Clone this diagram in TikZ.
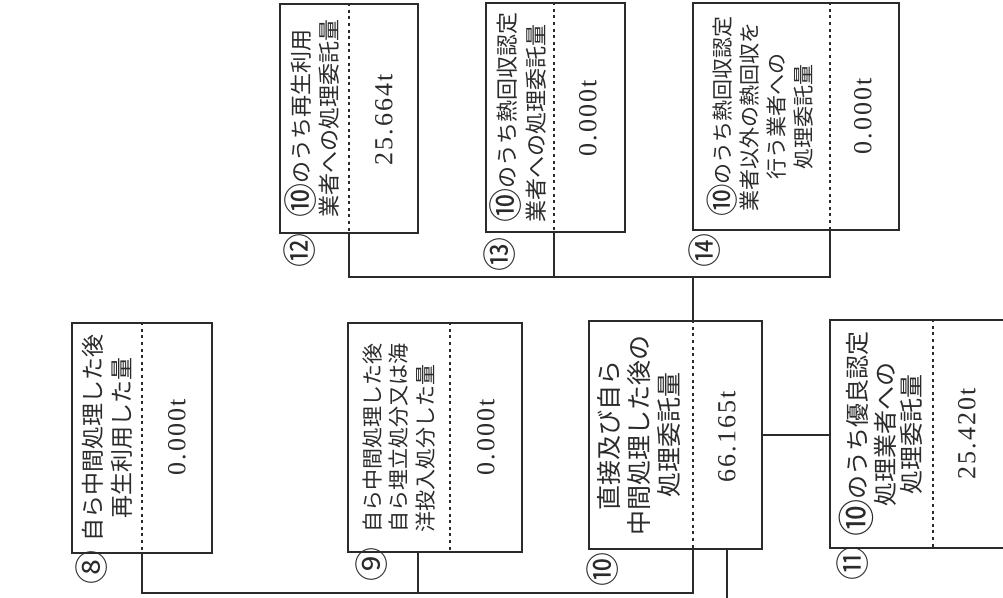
\documentclass[tikz,border=0pt]{standalone}
\usepackage{fontspec}
\newfontfamily\jp{Noto Sans CJK JP}
\newfontfamily\numf[LetterSpace=8]{Liberation Serif}
\definecolor{ink}{HTML}{2B2B2B}
\newcommand\tenc{\raisebox{-0.17em}{\scalebox{1.55}{⑩}}}
\begin{document}
\begin{tikzpicture}[x=1pt,y=-1pt,
  box/.style={draw=ink, line width=1.5pt, inner sep=0pt, rectangle},
  dotline/.style={draw=ink, line width=2.8pt, dash pattern=on 3pt off 3.6pt},
  wire/.style={draw=ink, line width=1.3pt},
  lbl/.style={rotate=90, text=ink, inner sep=0pt},
  val/.style={rotate=90, text=ink, inner sep=0pt, font=\numf\fontsize{26}{30}\selectfont},
  cnum/.style={rotate=90, text=ink, inner sep=0pt, font=\jp\fontsize{34}{34}\selectfont}]
\fill[white] (0,0) rectangle (1003,597);
\useasboundingbox (0,0) rectangle (1003,597);

% boxes
\node[box, minimum width=140pt, minimum height=230pt] (b8) at (142,438) {};
\node[box, minimum width=174pt, minimum height=229pt] (b9) at (435,437.5) {};
\node[box, minimum width=173pt, minimum height=228pt] (b10) at (675.5,435) {};
\node[box, minimum width=176pt, minimum height=228pt] (b11) at (918,434) {};
\node[box, minimum width=138pt, minimum height=229pt] (b12) at (349,118.5) {};
\node[box, minimum width=139pt, minimum height=229pt] (b13) at (555.5,117.5) {};
\node[box, minimum width=206pt, minimum height=227pt] (b14) at (796,116.5) {};

% dotted dividers
\coordinate (d8) at (142,0);
\coordinate (d9) at (450,0);
\coordinate (d10) at (693,0);
\coordinate (d11) at (933,0);
\coordinate (d12) at (349,0);
\coordinate (d13) at (554,0);
\coordinate (d14) at (830,0);
\foreach \n in {8,...,14}{
  \draw[dotline] (d\n |- b\n.north) -- (d\n |- b\n.south);
}

% labels
\node[lbl, align=center, font=\jp\fontsize{23}{29}\selectfont] (t8) at (107,438)
  {自ら中間処理した後\\再生利用した量};
\node[lbl, align=left, font=\jp\fontsize{21}{26.5}\selectfont] (t9) at (399,437.5)
  {自ら中間処理した後\\自ら埋立処分又は海\\洋投入処分した量};
\node[lbl, align=center, font=\jp\fontsize{25}{30}\selectfont] (t10) at (639,435)
  {直接及び自ら\\中間処理した後の\\処理委託量};
\node[lbl, align=center, font=\jp\fontsize{24}{26}\selectfont] (t11) at (881,434)
  {\tenc のうち優良認定\\処理業者への\\処理委託量};
\node[lbl, align=left, font=\jp\fontsize{22}{28}\selectfont] (t12) at (312,118.5)
  {\tenc のうち再生利用\\業者への処理委託量};
\node[lbl, align=left, font=\jp\fontsize{22}{29}\selectfont] (t13) at (518,117.5)
  {\tenc のうち熱回収認定\\業者への処理委託量};
\node[lbl, align=center, font=\jp\fontsize{21}{27}\selectfont] (t14) at (760,116.5)
  {\tenc のうち熱回収認定\\業者以外の熱回収を\\行う業者への\\処理委託量};

% values
\node[val] (v8) at (177,437) {0.000t};
\node[val] (v9) at (486,437) {0.000t};
\node[val] (v10) at (727,437) {66.165t};
\node[val] (v11) at (967,434) {25.420t};
\node[val] (v12) at (384,120) {25.664t};
\node[val] (v13) at (588,118) {0.000t};
\node[val] (v14) at (863,116) {0.000t};

% circled numbers
\node[cnum] (n8) at (92,567) {⑧};
\node[cnum] (n9) at (372,564) {⑨};
\node[cnum] (n10) at (603,569) {⑩};
\node[cnum] (n11) at (853,563) {⑪};
\node[cnum] (n12) at (300,250) {⑫};
\node[cnum] (n13) at (500,254) {⑬};
\node[cnum] (n14) at (705,250) {⑭};

% connectors
\coordinate (bus) at (0,277);
\coordinate (bus2) at (0,593);
\coordinate (c9) at (418,0);
\coordinate (out) at (727,605);
\draw[wire] (d12 |- b12.south) -- (d12 |- bus) -- (d14 |- bus) -- (d14 |- b14.south);
\draw[wire] (d13 |- b13.south) -- (d13 |- bus);
\draw[wire] (d10 |- bus) -- (d10 |- b10.north);
\draw[wire] (d8 |- b8.south) -- (d8 |- bus2) -- (d10 |- bus2) -- (d10 |- b10.south);
\draw[wire] (c9 |- b9.south) -- (c9 |- bus2);
\draw[wire] (out |- b10.south) -- (out);
\draw[wire] (b10.east) -- (b10.east -| b11.west);
\end{tikzpicture}
\end{document}
